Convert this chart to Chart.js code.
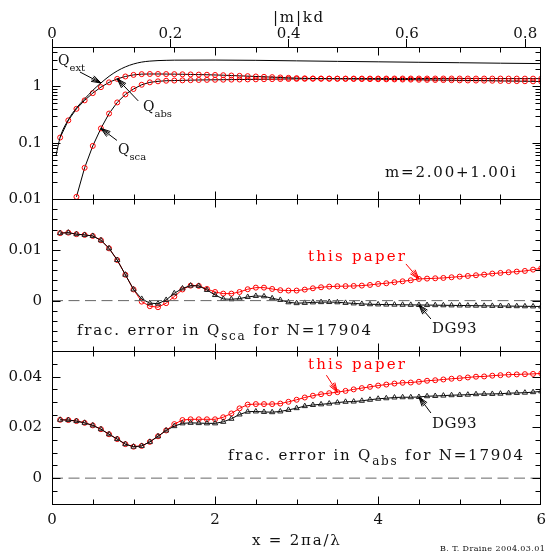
<!DOCTYPE html>
<html>
<head>
<meta charset="utf-8">
<script src="https://cdn.jsdelivr.net/npm/chart.js@4.4.1/dist/chart.umd.min.js"></script>
<style>
  body { margin: 0; background: #fff; }
  #box { position: relative; width: 554px; height: 554px; }
  #box canvas, #box svg { position: absolute; left: 0; top: 0; }
  svg text { font-family: 'DejaVu Serif', serif; font-size: 15px; letter-spacing: 1.8px; fill: #111; }
  svg text.red { fill: #f00; }
</style>
</head>
<body>
<div id="box">
  <canvas id="myChart" width="554" height="554"></canvas>
  <svg width="554" height="554">
    <text x="273" y="21.5">|m|kd</text>
    <text x="58" y="65" style="font-size:14px;letter-spacing:0">Q<tspan dy="6" font-size="10">ext</tspan></text>
    <text x="143" y="110.5" style="font-size:14px;letter-spacing:0">Q<tspan dy="6" font-size="10">abs</tspan></text>
    <text x="118" y="153.5" style="font-size:14px;letter-spacing:0">Q<tspan dy="6" font-size="10">sca</tspan></text>
    <text x="385" y="177">m=2.00+1.00i</text>
    <text class="red" x="308" y="261" style="letter-spacing:2.2px">this paper</text>
    <text x="432" y="333" style="letter-spacing:0.5px">DG93</text>
    <text x="77" y="335">frac. error in Q<tspan dy="5" font-size="12">sca</tspan><tspan dy="-5"> for N=17904</tspan></text>
    <text class="red" x="308" y="369" style="letter-spacing:2.2px">this paper</text>
    <text x="432" y="428" style="letter-spacing:0.5px">DG93</text>
    <text x="228" y="460">frac. error in Q<tspan dy="5" font-size="12">abs</tspan><tspan dy="-5"> for N=17904</tspan></text>
    <text x="252" y="545">x = 2πa/λ</text>
    <text x="440" y="551" style="font-size:8px;letter-spacing:0.4px">B. T. Draine  2004.03.01</text>
  </svg>
</div>
<script>
// --- Data ---
const xs = [0.1,0.2,0.3,0.4,0.5,0.6,0.7,0.8,0.9,1.0,
            1.1,1.2,1.3,1.4,1.5,1.6,1.7,1.8,1.9,2.0,
            2.1,2.2,2.3,2.4,2.5,2.6,2.7,2.8,2.9,3.0,
            3.1,3.2,3.3,3.4,3.5,3.6,3.7,3.8,3.9,4.0,
            4.1,4.2,4.3,4.4,4.5,4.6,4.7,4.8,4.9,5.0,
            5.1,5.2,5.3,5.4,5.5,5.6,5.7,5.8,5.9,6.0]

// top panel: efficiency factors
const qExtX = [0.05,0.1,0.2,0.3,0.4,0.5,0.6,0.7,0.8,0.9,1.0,1.1,1.2,1.3,1.4,1.5,2.0,2.5,3.0,3.5,4.0,4.5,5.0,5.5,6.0]
const qExt = [0.06,0.125,0.255,0.415,0.60,0.85,1.15,1.51,1.88,2.22,2.50,2.70,2.81,2.87,2.90,2.92,2.93,2.90,2.84,2.78,2.73,2.68,2.63,2.58,2.54]

const qAbs = [0.124,0.25,0.40,0.565,0.76,0.97,1.18,1.36,1.50,1.60,
              1.65,1.66,1.66,1.655,1.65,1.64,1.63,1.62,1.61,1.595,
              1.58,1.56,1.54,1.52,1.50,1.48,1.46,1.44,1.42,1.40,
              1.39,1.38,1.375,1.37,1.365,1.36,1.355,1.35,1.345,1.34,
              1.335,1.33,1.325,1.32,1.31,1.305,1.30,1.295,1.29,1.28,
              1.275,1.27,1.265,1.26,1.25,1.245,1.24,1.235,1.23,1.22]

const qSca = [null,null,0.011,0.036,0.088,0.18,0.33,0.52,0.72,0.90,
              1.07,1.18,1.23,1.26,1.27,1.28,1.29,1.30,1.305,1.31,
              1.315,1.32,1.325,1.33,1.335,1.34,1.345,1.35,1.355,1.36,
              1.365,1.37,1.372,1.374,1.375,1.376,1.377,1.378,1.378,1.379,
              1.379,1.38,1.38,1.38,1.38,1.38,1.38,1.38,1.38,1.379,
              1.379,1.378,1.378,1.377,1.377,1.376,1.376,1.375,1.375,1.374]

// middle panel: frac. error in Q_sca
const scaThis = [0.0133,0.0134,0.0131,0.01295,0.01275,0.0119,0.0103,0.0080,0.0051,0.0022,
                 -0.0002,-0.0011,-0.0013,-0.0005,0.0008,0.0022,0.00295,0.0029,0.0023,0.0017,
                 0.00138,0.00138,0.0017,0.00224,0.00256,0.00256,0.0023,0.00205,0.00198,0.00198,
                 0.00217,0.00243,0.00263,0.00276,0.00283,0.00285,0.00289,0.00296,0.00309,0.00329,
                 0.00342,0.00362,0.00381,0.00401,0.00427,0.00434,0.0044,0.00447,0.0046,0.00473,
                 0.00486,0.0050,0.00513,0.00533,0.00546,0.00559,0.00572,0.00585,0.00611,0.00638]

const scaDG = [0.0133,0.0134,0.0131,0.01295,0.01275,0.0119,0.0103,0.0080,0.0051,0.0022,
               0.00033,-0.0005,-0.0006,0.00013,0.00145,0.0024,0.00296,0.0029,0.0021,0.0011,
               0.00033,0.00026,0.0004,0.00072,0.00092,0.00085,0.00046,0.00013,-0.00033,-0.0005,
               -0.00045,-0.00035,-0.0003,-0.00028,-0.00033,-0.00045,-0.00055,-0.00065,-0.00072,-0.00075,
               -0.00078,-0.0008,-0.00082,-0.00084,-0.00086,-0.00088,-0.0009,-0.00092,-0.00094,-0.00096,
               -0.00098,-0.001,-0.00102,-0.00104,-0.00106,-0.00108,-0.0011,-0.00112,-0.00114,-0.00116]

// bottom panel: frac. error in Q_abs
const absThis = [0.0230,0.0229,0.0225,0.0218,0.0208,0.0193,0.0173,0.0154,0.0134,0.0124,
                 0.0127,0.0143,0.0165,0.0188,0.0213,0.0229,0.0232,0.0232,0.0232,0.0232,
                 0.0240,0.0255,0.0275,0.0290,0.0292,0.0292,0.0292,0.0294,0.0301,0.0309,
                 0.0318,0.0325,0.0331,0.0335,0.0339,0.0344,0.0350,0.0355,0.0360,0.0365,
                 0.0369,0.0373,0.0376,0.0377,0.0380,0.0384,0.0386,0.0389,0.0392,0.0394,
                 0.0397,0.0400,0.0401,0.0404,0.0406,0.0408,0.0409,0.0410,0.0411,0.0413]

const absDG = [0.0230,0.0229,0.0225,0.0218,0.0208,0.0193,0.0173,0.0154,0.0134,0.0124,
               0.0127,0.0143,0.0165,0.0188,0.0205,0.0216,0.0218,0.0217,0.0216,0.0216,
               0.0222,0.0234,0.0251,0.0262,0.0263,0.0261,0.0260,0.0263,0.0269,0.0276,
               0.0284,0.02885,0.0291,0.0294,0.0298,0.0301,0.0302,0.0305,0.0309,0.0313,
               0.0315,0.0318,0.0319,0.0319,0.0320,0.0323,0.0324,0.03255,0.0327,0.0328,
               0.0329,0.0331,0.0332,0.0332,0.0333,0.0335,0.0336,0.0337,0.0339,0.0342]

// tick labels
const xLabels = [0, 2, 4, 6]
const mkdLabels = [0, 0.2, 0.4, 0.6, 0.8]
const mkdMax = 0.827   // |m|kd at x = 6
const qLabels = [0.01, 0.1, 1]
const scaLabels = [0, 0.01]
const absLabels = [0, 0.02, 0.04]

// --- Helpers ---
const pts = (x, y) => x.map((v, i) => ({x: v, y: y[i]}))
const font = {family: "'DejaVu Serif', serif", size: 15}
const RED = '#ff0000', INK = '#111'

function fixTicks(list) {
    return s => { s.ticks = list.map(v => ({value: v})) }
}

// inward ticks: {value, length}
const xTicks = []
for (let i = 0; i <= 12; i++) xTicks.push({v: i * 0.5, len: i % 4 == 0 ? 8 : 5})
const panels = [
    {id: 'yQ', ticks: []},
    {id: 'ySca', ticks: []},
    {id: 'yAbs', ticks: []}
]
for (const d of [0.01, 0.1, 1]) {
    panels[0].ticks.push({v: d, len: 8})
    for (let m = 2; m <= 9; m++) if (m * d < 5) panels[0].ticks.push({v: m * d, len: 5})
}
for (let i = -5; i <= 10; i++) panels[1].ticks.push({v: i * 0.002, len: i % 5 == 0 ? 8 : 5})
for (let i = -2; i <= 10; i++) panels[2].ticks.push({v: i * 0.005, len: i % 4 == 0 ? 8 : 5})

// arrows: dataset index, point index, start offset from tip
const arrows = [
    {ds: 0, i: 6, dx: -21, dy: -11, color: '#000'},
    {ds: 1, i: 7, dx: 21, dy: 22, color: '#000'},
    {ds: 2, i: 5, dx: 16, dy: 12, color: '#000'},
    {ds: 5, i: 44, dx: -13, dy: -15, color: RED},
    {ds: 4, i: 44, dx: 12, dy: 14, color: '#000'},
    {ds: 8, i: 34, dx: -11, dy: -17, color: RED},
    {ds: 7, i: 44, dx: 12, dy: 16, color: '#000'}
]

const snap = v => Math.round(v) + 0.5

const panelPlugin = {
    id: 'panels',
    beforeDatasetDraw(chart, args) {
        // keep each dataset inside its own panel
        const ys = chart.scales[chart.data.datasets[args.index].yAxisID]
        const a = chart.chartArea, ctx = chart.ctx
        ctx.save()
        ctx.beginPath()
        ctx.rect(a.left, ys.top, a.right - a.left, ys.bottom - ys.top)
        ctx.clip()
    },
    afterDatasetDraw(chart) {
        chart.ctx.restore()
    },
    afterDraw(chart) {
        const ctx = chart.ctx, a = chart.chartArea, xs_ = chart.scales.x
        const L = snap(a.left), R = snap(a.right) - 1
        ctx.save()
        ctx.strokeStyle = '#000'
        ctx.lineWidth = 1
        for (const p of panels) {
            const s = chart.scales[p.id]
            const T = snap(s.top), B = snap(s.bottom)
            ctx.strokeRect(L, T, R - L, B - T)
            ctx.beginPath()
            for (const t of p.ticks) {
                const y = snap(s.getPixelForValue(t.v))
                if (y <= T + 1 || y >= B - 1) continue
                ctx.moveTo(L, y); ctx.lineTo(L + t.len, y)
                ctx.moveTo(R, y); ctx.lineTo(R - t.len, y)
            }
            for (const t of xTicks) {
                const x = snap(xs_.getPixelForValue(t.v))
                if (x <= L + 1 || x >= R - 1) continue
                ctx.moveTo(x, T); ctx.lineTo(x, T + t.len)
                ctx.moveTo(x, B); ctx.lineTo(x, B - t.len)
            }
            ctx.stroke()
        }
        // arrows
        for (const ar of arrows) {
            const pt = chart.getDatasetMeta(ar.ds).data[ar.i]
            const x1 = pt.x, y1 = pt.y, x0 = x1 + ar.dx, y0 = y1 + ar.dy
            ctx.strokeStyle = ar.color
            ctx.beginPath()
            ctx.moveTo(x0, y0); ctx.lineTo(x1, y1)
            const ang = Math.atan2(y1 - y0, x1 - x0)
            for (const d of [-0.32, -0.16, 0.16, 0.32]) {
                ctx.moveTo(x1, y1)
                ctx.lineTo(x1 - 10 * Math.cos(ang + d), y1 - 10 * Math.sin(ang + d))
            }
            ctx.stroke()
        }
        ctx.restore()
    }
}

function circles(label, y, data) {
    return {label, yAxisID: y, xAxisID: 'x', data, borderColor: '#000', borderWidth: 1,
        pointStyle: 'circle', pointRadius: 2.5, pointBorderWidth: 1,
        pointBorderColor: RED, pointBackgroundColor: 'rgba(0,0,0,0)'}
}
function thisPaper(label, y, data) {
    const d = circles(label, y, data)
    d.borderColor = RED
    return d
}
function dg93(label, y, data) {
    return {label, yAxisID: y, xAxisID: 'x', data, borderColor: '#000', borderWidth: 1,
        pointStyle: 'triangle', pointRadius: 3, pointBorderWidth: 1,
        pointBorderColor: '#222', pointBackgroundColor: 'rgba(0,0,0,0)'}
}
function zero(y) {
    return {label: 'zero', yAxisID: y, xAxisID: 'x', data: [{x: 0, y: 0}, {x: 6, y: 0}],
        borderColor: '#666', borderWidth: 1, borderDash: [11, 5.5], pointRadius: 0}
}

function yScale(extra) {
    return Object.assign({
        position: 'left', stack: 'panels', stackWeight: 1,
        grid: {display: false, drawTicks: false}, border: {display: false},
        ticks: {font, color: INK, padding: 10, callback: v => String(v)},
        afterFit: s => { s.width = 52 }
    }, extra)
}

// --- Chart ---
const ctx = document.getElementById('myChart').getContext('2d')
const myChart = new Chart(ctx, {
    type: 'line',
    data: {
        datasets: [
            {label: 'Qext', yAxisID: 'yQ', xAxisID: 'x', data: pts(qExtX, qExt), borderColor: '#000',
                borderWidth: 1, pointRadius: 0, cubicInterpolationMode: 'monotone'},
            circles('Qabs', 'yQ', pts(xs, qAbs)),
            circles('Qsca', 'yQ', pts(xs, qSca)),
            zero('ySca'),
            dg93('DG93 sca', 'ySca', pts(xs, scaDG)),
            thisPaper('this paper sca', 'ySca', pts(xs, scaThis)),
            zero('yAbs'),
            dg93('DG93 abs', 'yAbs', pts(xs, absDG)),
            thisPaper('this paper abs', 'yAbs', pts(xs, absThis))
        ]
    },
    options: {
        responsive: false,
        animation: false,
        devicePixelRatio: 1,
        layout: {padding: {left: 0, right: 12, top: 0, bottom: 0}},
        plugins: {legend: {display: false}, tooltip: {enabled: false}},
        scales: {
            x: {
                type: 'linear', position: 'bottom', min: 0, max: 6,
                afterBuildTicks: fixTicks(xLabels),
                grid: {display: false, drawTicks: false}, border: {display: false},
                ticks: {font, color: INK, padding: 8, maxRotation: 0, callback: v => String(v)},
                afterFit: s => { s.height = 50.5 }
            },
            x2: {
                type: 'linear', position: 'top', min: 0, max: mkdMax,
                afterBuildTicks: fixTicks(mkdLabels),
                grid: {display: true, drawOnChartArea: false, drawTicks: true, tickLength: 8, color: '#000'},
                border: {display: false},
                ticks: {font, color: INK, padding: -4, maxRotation: 0, callback: v => v == 0 ? '0' : v.toFixed(1)},
                afterFit: s => { s.height = 47 }
            },
            yAbs: yScale({type: 'linear', min: -0.01, max: 0.05, afterBuildTicks: fixTicks(absLabels)}),
            ySca: yScale({type: 'linear', min: -0.01, max: 0.02, afterBuildTicks: fixTicks(scaLabels)}),
            yQ: yScale({type: 'logarithmic', min: 0.01, max: 5, afterBuildTicks: fixTicks(qLabels)})
        }
    },
    plugins: [panelPlugin]
})
</script>
</body>
</html>
